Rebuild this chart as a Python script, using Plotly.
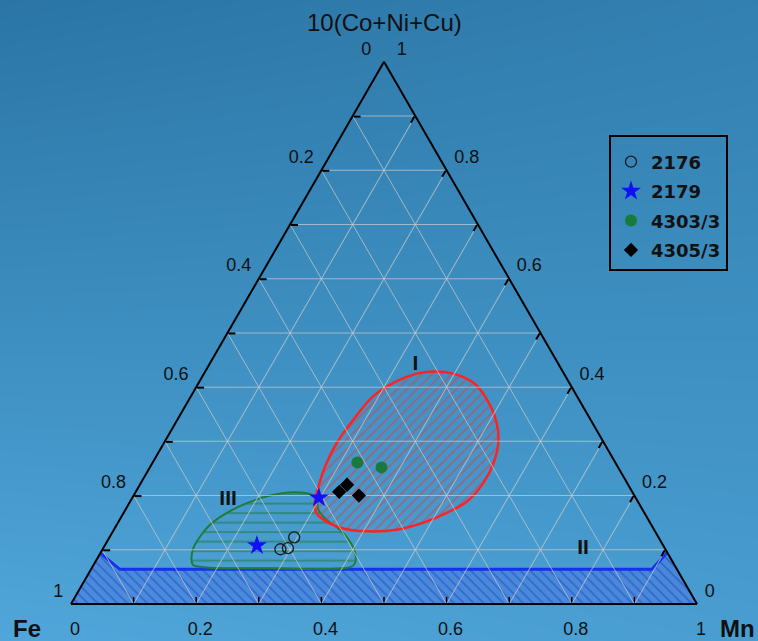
import math
import plotly.graph_objects as go

# ---- sample compositions (ternary fractions: top = 10(Co+Ni+Cu), right = Mn, Fe = remainder) ----
S2176_TOP = [0.101, 0.103, 0.123]
S2176_MN = [0.284, 0.295, 0.295]
S2179_TOP = [0.108, 0.196]
S2179_MN = [0.243, 0.298]
S4303_TOP = [0.261, 0.252]
S4303_MN = [0.327, 0.370]
S4305_TOP = [0.207, 0.220, 0.200]
S4305_MN = [0.325, 0.331, 0.360]

# ---- genetic fields ----
FIELD_I_TOP = [0.429, 0.425, 0.408, 0.377, 0.334, 0.297, 0.260, 0.223, 0.189, 0.168,
               0.150, 0.137, 0.134, 0.138, 0.152, 0.168, 0.189, 0.217, 0.254, 0.297,
               0.340, 0.383, 0.411, 0.425]
FIELD_I_MN = [0.367, 0.398, 0.439, 0.476, 0.513, 0.534, 0.545, 0.547, 0.538, 0.516,
              0.488, 0.452, 0.411, 0.371, 0.332, 0.308, 0.295, 0.287, 0.279, 0.276,
              0.281, 0.291, 0.315, 0.340]
FIELD_III_TOP = [0.081, 0.103, 0.124, 0.146, 0.168, 0.186, 0.200, 0.206, 0.203, 0.195,
                 0.174, 0.155, 0.137, 0.115, 0.094, 0.075, 0.068, 0.066, 0.068, 0.072]
FIELD_III_MN = [0.152, 0.144, 0.144, 0.149, 0.165, 0.188, 0.218, 0.252, 0.280, 0.295,
                0.308, 0.331, 0.361, 0.388, 0.407, 0.416, 0.412, 0.285, 0.177, 0.159]
FIELD_II_TOP = [0.0, 0.094, 0.064, 0.064, 0.095, 0.0]
FIELD_II_MN = [0.0, 0.0, 0.046, 0.896, 0.905, 1.0]

FIELD_NAMES = ["I", "II", "III"]
FIELD_NAME_TOP = [0.442, 0.102, 0.192]
FIELD_NAME_MN = [0.329, 0.767, 0.155]

TICK_VALS = [0.0, 0.1, 0.2, 0.3, 0.4, 0.5, 0.6, 0.7, 0.8, 0.9, 1.0]

SQ3 = math.sqrt(3) / 2
W, H = 758, 641
TRI_PX = 626                      # triangle side in pixels
TRI_X = [71 / W, (71 + TRI_PX) / W]
TRI_Y = [37 / H, (37 + TRI_PX * SQ3) / H]
NB = "\u00a0"


def fe(top, mn):
    return [round(1 - t - m, 4) for t, m in zip(top, mn)]


def flat_x(top, mn):
    # position of a composition inside the equilateral triangle (unit base)
    return [m + t / 2 for t, m in zip(top, mn)]


def flat_y(top):
    return [t * SQ3 for t in top]


def fmt(v):
    return "%g" % round(v, 1)


def labels(side):
    out = []
    last = len(TICK_VALS) - 1
    for i, v in enumerate(TICK_VALS):
        if i % 2:
            out.append("")
            continue
        s = fmt(1 - v)
        if side == "left":
            pad = NB * (2 if i == last else 1)
            s = s + pad + "<br>" + NB
        elif side == "right":
            pad = NB * (2 if i == 0 else 1)
            s = pad + s + "<br>" + NB
        out.append(s)
    return out


TICK_FONT = dict(family="Liberation Sans, Arial", size=18, color="#111111")
GRID = "rgba(205,205,205,0.7)"

fig = go.Figure()

# soft blue backdrop
fig.add_trace(go.Heatmap(
    z=[[1.0, 0.82], [0.0, 0.22]], x=[0, 1], y=[0, 1], zsmooth="best",
    colorscale=[[0, "rgb(42,117,165)"], [1, "rgb(80,166,218)"]],
    showscale=False, hoverinfo="skip", xaxis="x", yaxis="y"))

# field II: blue hatched band along the Fe-Mn side
fig.add_trace(go.Scatter(
    x=flat_x(FIELD_II_TOP, FIELD_II_MN), y=flat_y(FIELD_II_TOP),
    mode="none", fill="toself", fillcolor="rgba(70,115,225,0.45)",
    fillpattern=dict(shape="\\", fgcolor="#1c38bd", bgcolor="rgba(72,118,228,0.5)",
                     size=7, solidity=0.22),
    xaxis="x2", yaxis="y2", showlegend=False, hoverinfo="skip"))
fig.add_trace(go.Scatter(
    x=flat_x(FIELD_II_TOP[1:5], FIELD_II_MN[1:5]), y=flat_y(FIELD_II_TOP[1:5]),
    mode="lines", line=dict(color="#1530ee", width=3),
    xaxis="x2", yaxis="y2", showlegend=False, hoverinfo="skip"))

# field III: green, horizontal hatching
fig.add_trace(go.Scatter(
    x=flat_x(FIELD_III_TOP, FIELD_III_MN) + flat_x(FIELD_III_TOP[:1], FIELD_III_MN[:1]),
    y=flat_y(FIELD_III_TOP) + flat_y(FIELD_III_TOP[:1]),
    mode="lines", fill="toself", line=dict(color="#1e7d3a", width=2, shape="spline"),
    fillcolor="rgba(0,0,0,0)",
    fillpattern=dict(shape="-", fgcolor="#1c7a38", bgcolor="rgba(0,0,0,0)",
                     size=9.5, solidity=0.22),
    xaxis="x2", yaxis="y2", showlegend=False, hoverinfo="skip"))

# field I: red, diagonal hatching
fig.add_trace(go.Scatter(
    x=flat_x(FIELD_I_TOP, FIELD_I_MN) + flat_x(FIELD_I_TOP[:1], FIELD_I_MN[:1]),
    y=flat_y(FIELD_I_TOP) + flat_y(FIELD_I_TOP[:1]),
    mode="lines", fill="toself", line=dict(color="#ff2222", width=2.5, shape="spline"),
    fillcolor="rgba(0,0,0,0)",
    fillpattern=dict(shape="/", fgcolor="#e0393f", bgcolor="rgba(0,0,0,0)",
                     size=7, solidity=0.27),
    xaxis="x2", yaxis="y2", showlegend=False, hoverinfo="skip"))

# short inward ticks on the Fe-Mn side
tick_x, tick_y = [], []
for v in TICK_VALS[1:-1]:
    tick_x += [v, v, None]
    tick_y += [0, 7 / TRI_PX, None]
fig.add_trace(go.Scatter(
    x=tick_x, y=tick_y, mode="lines", line=dict(color="black", width=1.5),
    xaxis="x2", yaxis="y2", showlegend=False, hoverinfo="skip"))


def ternary_trace(top, mn, **kw):
    return go.Scatterternary(a=top, c=mn, b=fe(top, mn), **kw)


# field names
fig.add_trace(ternary_trace(
    FIELD_NAME_TOP, FIELD_NAME_MN, mode="text", text=FIELD_NAMES,
    textfont=dict(family="Liberation Sans, Arial", size=21, color="#111111", weight="bold"),
    showlegend=False, hoverinfo="skip"))

# samples
fig.add_trace(ternary_trace(
    S2176_TOP, S2176_MN, mode="markers", name="2176", legendgroup="g1",
    marker=dict(symbol="circle-open", size=11, color="#1a1a1a", line=dict(width=1.3))))
fig.add_trace(ternary_trace(
    S2179_TOP, S2179_MN, mode="markers", name="2179", legendgroup="g2",
    marker=dict(symbol="star", size=15, color="#1010ff")))
fig.add_trace(ternary_trace(
    S4303_TOP, S4303_MN, mode="markers", name="4303/3", legendgroup="g3",
    marker=dict(symbol="circle", size=12, color="#1a7a3c")))
fig.add_trace(ternary_trace(
    S4305_TOP, S4305_MN, mode="markers", name="4305/3", legendgroup="g4",
    marker=dict(symbol="diamond", size=11, color="black")))


def axis(side, ticks, ticklen, tickcolor):
    return dict(
        title=dict(text=""),
        tickmode="array", tickvals=TICK_VALS, ticktext=labels(side),
        ticks=ticks, ticklen=ticklen, tickcolor=tickcolor, tickwidth=1.5,
        tickfont=TICK_FONT, linecolor="black", linewidth=2,
        showgrid=True, gridcolor=GRID, gridwidth=1, min=0)


TITLE_FONT = dict(family="Liberation Sans, Arial", color="#111111")


def title_note(text, px, py, size):
    return dict(text=text, x=px / W, y=1 - py / H, xref="paper", yref="paper",
                xanchor="center", yanchor="middle", showarrow=False,
                font=dict(size=size, **TITLE_FONT))


fig.update_layout(
    width=W, height=H,
    margin=dict(l=0, r=0, t=0, b=0),
    paper_bgcolor="rgb(60,140,195)",
    plot_bgcolor="rgba(0,0,0,0)",
    xaxis=dict(domain=[0, 1], range=[0, 1], visible=False, fixedrange=True),
    yaxis=dict(domain=[0, 1], range=[0, 1], visible=False, fixedrange=True),
    xaxis2=dict(domain=TRI_X, range=[0, 1], visible=False, fixedrange=True),
    yaxis2=dict(domain=TRI_Y, range=[0, SQ3], visible=False, fixedrange=True),
    ternary=dict(
        sum=1,
        domain=dict(x=TRI_X, y=TRI_Y),
        bgcolor="rgba(0,0,0,0)",
        aaxis=axis("left", "inside", 7, "black"),
        baxis=axis("bottom", "outside", 8, "rgba(0,0,0,0)"),
        caxis=axis("right", "inside", 7, "black"),
    ),
    annotations=[
        title_note("10(Co+Ni+Cu)", 384, 22, 24),
        title_note("<b>Fe</b>", 27, 628, 24),
        title_note("<b>Mn</b>", 737, 628, 24),
    ],
    legend=dict(
        x=609 / W, y=1 - 135 / H, xanchor="left", yanchor="top",
        bgcolor="rgba(0,0,0,0)", bordercolor="black", borderwidth=2,
        font=dict(family="DejaVu Sans, Verdana", size=18, color="#111111", weight="bold"),
        title=dict(text=NB, font=dict(size=5)),
        itemsizing="trace", tracegroupgap=3),
    showlegend=True,
)

fig.write_html("out.html")
